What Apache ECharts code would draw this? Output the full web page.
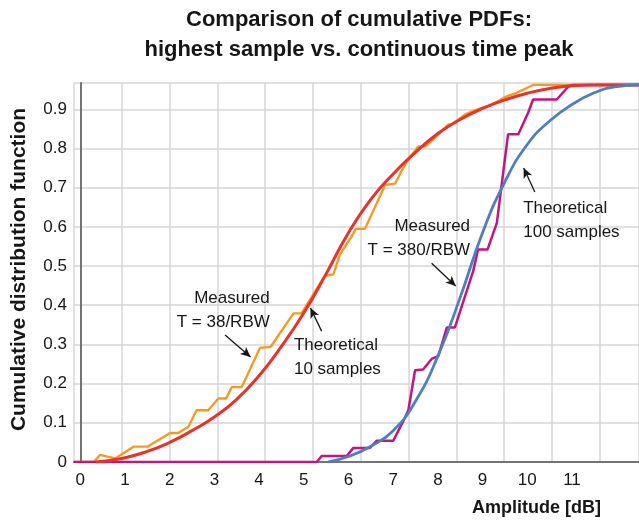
<!DOCTYPE html>
<html>
<head>
<meta charset="utf-8">
<title>Comparison of cumulative PDFs</title>
<script src="https://cdn.jsdelivr.net/npm/echarts@6/dist/echarts.min.js"></script>
<style>
  html, body { margin: 0; padding: 0; background: #fff; }
  #chart { width: 639px; height: 521px; }
</style>
</head>
<body>
<div id="chart"></div>
<script>
// tick labels
var xTicks = [0, 1, 2, 3, 4, 5, 6, 7, 8, 9, 10, 11];
var yTicks = [0, 0.1, 0.2, 0.3, 0.4, 0.5, 0.6, 0.7, 0.8, 0.9];

// [amplitude dB, CDF]
var measured38 = [
  [-0.14, 0], [0.30, 0], [0.44, 0.018], [0.78, 0.009], [1.19, 0.039], [1.50, 0.039],
  [2.01, 0.074], [2.19, 0.074], [2.42, 0.09], [2.60, 0.132], [2.86, 0.132], [3.09, 0.162],
  [3.26, 0.162], [3.39, 0.191], [3.61, 0.191], [4.02, 0.291], [4.26, 0.294], [4.77, 0.379],
  [4.95, 0.379], [5.47, 0.475], [5.66, 0.479], [5.81, 0.53], [6.03, 0.568], [6.17, 0.595],
  [6.37, 0.595], [6.82, 0.707], [7.04, 0.71], [7.30, 0.766], [7.56, 0.805], [7.71, 0.805],
  [7.90, 0.823], [8.23, 0.861], [8.34, 0.863], [8.61, 0.887], [8.87, 0.899], [9.17, 0.91],
  [9.54, 0.933], [9.76, 0.942], [9.99, 0.954], [10.13, 0.962], [12.5, 0.962]
];
var theory10 = [
  [0.35, 0], [0.93, 0.009], [1.5, 0.027], [2.0, 0.05], [2.5, 0.08], [3.0, 0.115],
  [3.5, 0.16], [4.0, 0.22], [4.5, 0.295], [5.0, 0.38], [5.5, 0.48], [6.0, 0.585],
  [6.5, 0.67], [7.0, 0.735], [7.5, 0.79], [8.0, 0.838], [8.5, 0.874], [9.0, 0.902],
  [9.5, 0.924], [10.0, 0.941], [10.5, 0.953], [11.0, 0.96], [11.5, 0.962], [12.5, 0.962]
];
var measured380 = [
  [-0.14, 0], [5.29, 0], [5.40, 0.015], [5.96, 0.015], [6.11, 0.036], [6.48, 0.036],
  [6.63, 0.054], [7.00, 0.054], [7.23, 0.105], [7.34, 0.132], [7.49, 0.234], [7.67, 0.236],
  [7.86, 0.263], [8.01, 0.27], [8.20, 0.343], [8.38, 0.343], [8.79, 0.487], [8.90, 0.542],
  [9.11, 0.542], [9.32, 0.61], [9.57, 0.836], [9.80, 0.836], [10.02, 0.891], [10.13, 0.925],
  [10.66, 0.925], [10.92, 0.958], [11.03, 0.962], [12.5, 0.962]
];
var theory100 = [
  [5.55, 0], [6.0, 0.014], [6.5, 0.04], [7.0, 0.08], [7.5, 0.155], [8.0, 0.27],
  [8.5, 0.42], [9.0, 0.585], [9.5, 0.715], [10.0, 0.81], [10.5, 0.87], [11.0, 0.912],
  [11.5, 0.942], [12.0, 0.958], [12.5, 0.962]
];

var FONT = '"Liberation Sans", Arial, sans-serif';
var AXIS_GRAY = '#747474';
var GRID_GRAY = '#d6d6d6';
var INK = '#161616';

// text note + arrow, both in data coords
function note(text, at, align, from, to) {
  return {
    markPoint: {
      silent: true, animation: false,
      symbol: 'circle', symbolSize: 1,
      itemStyle: { color: 'rgba(0,0,0,0)' },
      data: [{
        coord: at,
        label: {
          show: true, position: 'inside', formatter: text,
          align: align, verticalAlign: 'middle',
          fontFamily: FONT, fontSize: 17, lineHeight: 24, color: INK
        }
      }]
    },
    markLine: {
      silent: true, animation: false,
      symbol: ['none', 'arrow'], symbolSize: [7, 10],
      lineStyle: { color: INK, width: 1.3, type: 'solid' },
      label: { show: false },
      data: [[{ coord: from }, { coord: to }]]
    }
  };
}

function lineSeries(name, data, color, width, smooth, extra) {
  var s = {
    name: name, type: 'line', xAxisIndex: 0, data: data,
    showSymbol: false, smooth: smooth,
    lineStyle: { color: color, width: width },
    itemStyle: { color: color },
    emphasis: { disabled: true }
  };
  for (var k in extra) s[k] = extra[k];
  return s;
}

var myChart = echarts.init(document.getElementById('chart'));
var option = {
  animation: false,
  backgroundColor: '#fff',
  textStyle: { fontFamily: FONT },
  title: {
    text: 'Comparison of cumulative PDFs:\nhighest sample vs. continuous time peak',
    left: 354, top: 0, textAlign: 'center',
    textStyle: { fontFamily: FONT, fontWeight: 'bold', fontSize: 22, lineHeight: 30, color: INK }
  },
  grid: { left: 74, right: 0, top: 83, bottom: 59, containLabel: false, outerBoundsMode: 'none' },
  xAxis: [
    {
      // labelled axis, carries the data
      type: 'value', position: 'bottom', min: -0.14, max: 12.5,
      minInterval: 1, maxInterval: 1, splitNumber: 12,
      axisLine: { show: true, onZero: false, lineStyle: { color: AXIS_GRAY, width: 2 } },
      axisTick: { show: false },
      splitLine: { show: false },
      axisLabel: {
        margin: 10, fontSize: 17, color: INK, fontFamily: FONT,
        formatter: function (v) { return xTicks.indexOf(v) >= 0 ? String(v) : ''; }
      },
      name: 'Amplitude [dB]', nameLocation: 'end', nameGap: -38,
      nameTextStyle: {
        fontFamily: FONT, fontWeight: 'bold', fontSize: 18, color: INK,
        align: 'right', verticalAlign: 'top', padding: [37, 0, 0, 0]
      }
    },
    {
      // grid lines only (their spacing differs from the labels in the picture)
      type: 'value', position: 'top', min: 0, max: 11.82, interval: 1,
      axisLine: { show: true, lineStyle: { color: AXIS_GRAY, width: 2 } },
      axisTick: { show: false },
      axisLabel: { show: false },
      splitLine: { show: true, lineStyle: { color: GRID_GRAY, width: 1.5 } }
    }
  ],
  yAxis: {
    type: 'value', min: 0, max: 0.967, interval: 0.1,
    axisLine: { show: true, lineStyle: { color: AXIS_GRAY, width: 2 } },
    axisTick: { show: false },
    splitLine: { show: true, lineStyle: { color: GRID_GRAY, width: 1.5 } },
    axisLabel: {
      margin: 7, fontSize: 17, color: INK, fontFamily: FONT,
      formatter: function (v) {
        for (var i = 0; i < yTicks.length; i++) {
          if (Math.abs(yTicks[i] - v) < 1e-6) return i === 0 ? '0' : yTicks[i].toFixed(1);
        }
        return '';
      }
    },
    name: 'Cumulative distribution function', nameLocation: 'middle', nameGap: 44,
    nameTextStyle: { fontFamily: FONT, fontWeight: 'bold', fontSize: 21, color: INK, padding: [0, 0, 0, 6] }
  },
  series: [
    lineSeries('Measured T = 38/RBW', measured38, '#F7991E', 2.3, false,
      note('Measured\nT = 38/RBW', [4.24, 0.388], 'right', [3.24, 0.324], [3.81, 0.268])),
    lineSeries('Measured T = 380/RBW', measured380, '#C2157F', 2.5, false,
      note('Measured\nT = 380/RBW', [8.72, 0.571], 'right', [7.86, 0.507], [8.40, 0.449])),
    lineSeries('Theoretical 10 samples', theory10, '#E8322B', 3, 0.5,
      note('Theoretical\n10 samples', [4.78, 0.268], 'left', [5.40, 0.334], [5.15, 0.393])),
    lineSeries('Theoretical 100 samples', theory100, '#4F7EC0', 2.8, 0.5,
      note('Theoretical\n100 samples', [9.91, 0.616], 'left', [10.17, 0.689], [9.92, 0.75]))
  ]
};
myChart.setOption(option);
</script>
</body>
</html>
